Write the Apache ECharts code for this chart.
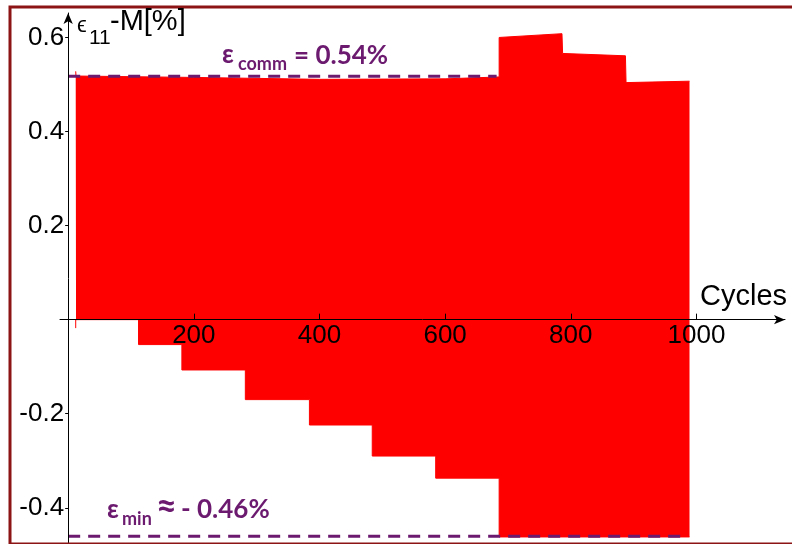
<!DOCTYPE html>
<html><head><meta charset="utf-8">
<script src="https://cdn.jsdelivr.net/npm/echarts@6/dist/echarts.min.js"></script>
<style>html,body{margin:0;padding:0;background:#fff}#c{width:792px;height:544px}</style>
</head><body><div id="c"></div>
<script>
// Upper envelope of the strain band
const upperCycles = [12, 12.5, 200, 400, 600, 686, 686, 786, 787, 887, 888, 989];
const upperVals   = [0.528, 0.518, 0.515, 0.511, 0.512, 0.516, 0.600, 0.608, 0.566, 0.561, 0.504, 0.507];
// Lower envelope of the strain band
const lowerCycles = [12, 12, 112, 112, 181, 181, 282, 282, 384, 384, 484, 484, 585, 585, 686, 686, 989];
const lowerVals   = [-0.018, 0, 0, -0.053, -0.053, -0.107, -0.107, -0.170, -0.170, -0.224, -0.224, -0.290, -0.290, -0.337, -0.337, -0.462, -0.462];
// Reference levels (dashed)
const commCycles = [0, 682];
const commLevel = 0.5175;
const minCycles = [0, 982];
const minLevel = -0.4606;
// Tick labels
const xTicks = [200, 400, 600, 800, 1000];
const yTicks = [-0.4, -0.2, 0.2, 0.4, 0.6];

const zip = (a, b) => a.map((v, i) => [v, b[i]]);
const purple = '#6b1a6f';
const sans = 'Liberation Sans';
const hum = 'Lato';

const W = 792, H = 544;
const gridTop = 13, gridBottom = 0, gridLeft = 60, gridRight = 7;
const yMin = -0.477, yMax = 0.652, xMin = -13, xMax = 1141;
const plotH = H - gridTop - gridBottom;
const plotW = W - gridLeft - gridRight;
const zeroY = gridTop + (yMax / (yMax - yMin)) * plotH;    // pixel row of value 0
const zeroX = gridLeft + (-xMin / (xMax - xMin)) * plotW;  // pixel column of cycle 0

const annot = (text, x, y, size) => ({ type: 'text', x, y, z: 20,
  style: { text, fontFamily: hum, fontWeight: 'bold', fontSize: size, fill: purple, verticalAlign: 'middle' } });
const blk = (text, x, y, size) => ({ type: 'text', x, y, z: 20,
  style: { text, fontFamily: sans, fontSize: size, fill: '#000', verticalAlign: 'middle' } });

const chart = echarts.init(document.getElementById('c'));
chart.setOption({
  animation: false,
  backgroundColor: '#fff',
  grid: { left: gridLeft, right: gridRight, top: gridTop, bottom: gridBottom, containLabel: false, outerBoundsMode: 'none' },
  xAxis: {
    type: 'value', min: xMin, max: xMax, z: 5, position: 'bottom',
    offset: -(H - gridBottom - zeroY),
    splitLine: { show: false },
    axisLine: { onZero: false, lineStyle: { color: '#000', width: 1 }, symbol: ['none', 'arrow'], symbolSize: [7, 11] },
    axisTick: { show: true, inside: true, length: 6, lineStyle: { color: '#000' }, customValues: xTicks },
    axisLabel: { customValues: xTicks, fontFamily: sans, fontSize: 26, color: '#000', margin: 3, formatter: v => String(v) }
  },
  yAxis: {
    type: 'value', min: yMin, max: yMax, z: 5, position: 'left',
    offset: -(zeroX - gridLeft),
    splitLine: { show: false },
    axisLine: { onZero: false, lineStyle: { color: '#000', width: 1 }, symbol: ['none', 'arrow'], symbolSize: [7, 11] },
    axisTick: { show: true, inside: false, length: 3, lineStyle: { color: '#000' }, customValues: yTicks },
    axisLabel: { customValues: yTicks, fontFamily: sans, fontSize: 26, color: '#000', margin: 4,
      formatter: v => v.toFixed(1) }
  },
  series: [
    { type: 'line', data: zip(upperCycles, upperVals), symbol: 'none', z: 2,
      lineStyle: { color: '#ff0000', width: 1 }, areaStyle: { color: '#ff0000', opacity: 1 } },
    { type: 'line', data: zip(lowerCycles, lowerVals), symbol: 'none', z: 2,
      lineStyle: { color: '#ff0000', width: 1 }, areaStyle: { color: '#ff0000', opacity: 1 } },
    { type: 'line', data: commCycles.map(c => [c, commLevel]), symbol: 'none', z: 3,
      lineStyle: { color: purple, width: 3, type: [12, 8] } },
    { type: 'line', data: minCycles.map(c => [c, minLevel]), symbol: 'none', z: 3,
      lineStyle: { color: purple, width: 3, type: [12, 8] } }
  ],
  graphic: [
    { type: 'rect', shape: { x: 10, y: 7, width: 800, height: 537 }, z: 20,
      style: { fill: 'none', stroke: '#8c1414', lineWidth: 3 } },
    blk('ϵ', 77, 26, 22),
    blk('11', 89, 38, 21),
    blk('-M[%]', 110, 22, 29),
    blk('Cycles', 700, 297, 29),
    annot('ε', 222, 55, 26),
    annot('comm', 238, 64, 18),
    annot('= 0.54%', 294, 56, 26),
    annot('ε', 107, 510, 26),
    annot('min', 122, 519, 18),
    annot('≈', 156, 506, 36),
    annot('- 0.46%', 181, 510, 26)
  ]
});
</script>
</body></html>
